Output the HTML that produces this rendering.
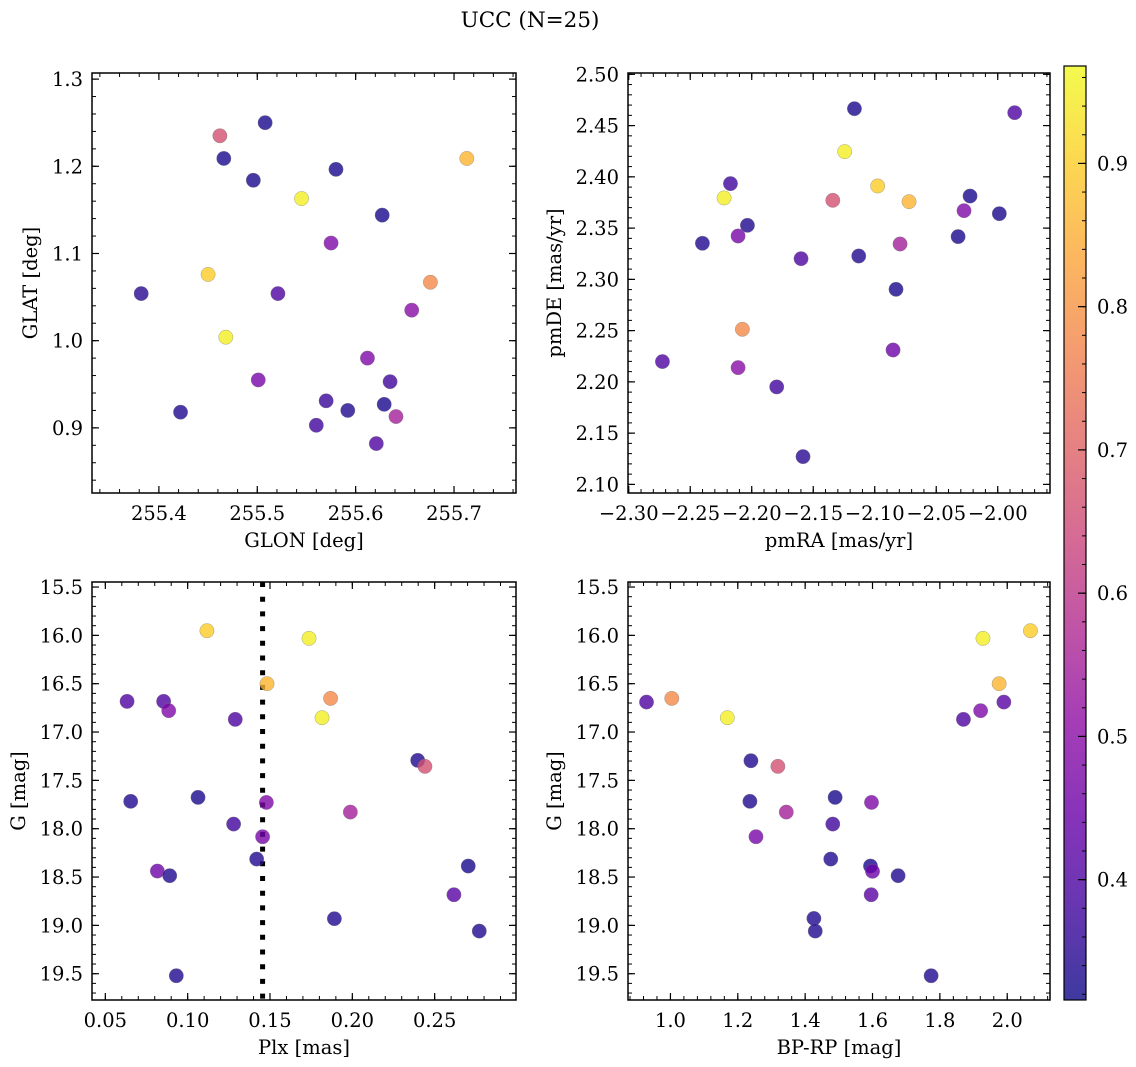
<!DOCTYPE html>
<html><head><meta charset="utf-8"><style>
html,body{margin:0;padding:0;background:#fff;}
svg{display:block;font-family:"DejaVu Serif","Liberation Serif",serif;}
</style></head><body>
<svg id="fig" width="1136" height="1067" viewBox="0 0 1136 1067" xmlns="http://www.w3.org/2000/svg">
<text x="530" y="27" font-size="21.5" text-anchor="middle">UCC (N=25)</text>
</svg>
<script>
// ---- data ----
const tlGlon=[255.508,255.462,255.466,255.580,255.496,255.545,255.713,255.627,255.575,255.450,255.382,255.521,255.676,255.657,255.468,255.612,255.501,255.635,255.570,255.592,255.422,255.629,255.641,255.560,255.621];
const tlGlat=[1.250,1.235,1.209,1.1965,1.184,1.163,1.209,1.144,1.112,1.076,1.054,1.054,1.067,1.035,1.004,0.980,0.955,0.953,0.931,0.920,0.918,0.927,0.913,0.903,0.882];
const tlProb=[0.33,0.66,0.33,0.33,0.33,0.95,0.86,0.33,0.48,0.90,0.35,0.40,0.78,0.50,0.95,0.48,0.47,0.38,0.37,0.34,0.34,0.33,0.55,0.38,0.40];
const trPmra=[-2.1165,-1.9862,-2.1244,-2.2173,-2.2225,-2.0976,-2.1341,-2.0721,-2.0225,-2.0274,-1.9987,-2.2035,-2.2111,-2.2401,-2.0322,-2.0794,-2.1130,-2.1599,-2.0827,-2.2076,-2.0851,-2.2726,-2.2111,-2.1797,-2.1583];
const trPmde=[2.4665,2.4626,2.4246,2.3934,2.3794,2.3911,2.3771,2.3758,2.3813,2.3670,2.3641,2.3527,2.3423,2.3352,2.3417,2.3345,2.3228,2.3202,2.2903,2.2513,2.2311,2.2198,2.2139,2.1951,2.1271];
const trProb=[0.33,0.40,0.95,0.38,0.95,0.90,0.66,0.86,0.33,0.48,0.33,0.34,0.47,0.34,0.33,0.55,0.34,0.40,0.33,0.78,0.45,0.40,0.50,0.38,0.35];
const blPlx=[0.1117,0.1737,0.1482,0.1868,0.0632,0.0854,0.0885,0.1816,0.1289,0.2397,0.2441,0.0654,0.1063,0.1478,0.1988,0.1279,0.1455,0.1419,0.2704,0.0816,0.0891,0.2617,0.1891,0.2771,0.0931];
const blG=[15.952,16.031,16.50,16.652,16.683,16.683,16.779,16.852,16.869,17.293,17.355,17.717,17.676,17.728,17.828,17.952,18.083,18.314,18.386,18.438,18.486,18.683,18.931,19.059,19.521];
const blProb=[0.90,0.95,0.86,0.78,0.40,0.40,0.48,0.95,0.40,0.34,0.66,0.34,0.33,0.48,0.55,0.38,0.47,0.34,0.33,0.45,0.34,0.42,0.34,0.34,0.34];
const plxLine=0.1455;
const brBprp=[2.069,1.928,1.976,1.990,1.921,1.870,0.929,1.004,1.169,1.239,1.319,1.236,1.489,1.597,1.344,1.482,1.254,1.476,1.594,1.600,1.676,1.596,1.426,1.430,1.774];
const brG=[15.952,16.031,16.50,16.690,16.779,16.869,16.690,16.652,16.852,17.297,17.355,17.717,17.676,17.728,17.828,17.952,18.083,18.314,18.386,18.441,18.486,18.683,18.928,19.059,19.521];
const brProb=[0.90,0.95,0.86,0.42,0.48,0.40,0.40,0.78,0.95,0.34,0.66,0.34,0.33,0.48,0.55,0.38,0.47,0.34,0.33,0.45,0.34,0.42,0.34,0.34,0.34];
const tlXTicks=[255.4,255.5,255.6,255.7];
const tlYTicks=[0.9,1.0,1.1,1.2,1.3];
const trXTicks=[-2.30,-2.25,-2.20,-2.15,-2.10,-2.05,-2.00];
const trYTicks=[2.10,2.15,2.20,2.25,2.30,2.35,2.40,2.45,2.50];
const blXTicks=[0.05,0.10,0.15,0.20,0.25];
const gTicks=[15.5,16.0,16.5,17.0,17.5,18.0,18.5,19.0,19.5];
const brXTicks=[1.0,1.2,1.4,1.6,1.8,2.0];
const cbTicks=[0.4,0.5,0.6,0.7,0.8,0.9];
const vmin=0.316, vmax=0.968;

const FS=19.5;
const NS="http://www.w3.org/2000/svg";
const svg=document.getElementById('fig');
function mk(tag,attrs,parent){const e=document.createElementNS(NS,tag);for(const k in attrs)e.setAttribute(k,attrs[k]);(parent||svg).appendChild(e);return e;}
const plasma=[[13,8,135],[65,4,157],[106,0,168],[143,13,164],[177,42,144],[204,71,120],[225,100,98],[242,132,75],[252,166,54],[252,206,37],[240,249,33]];
function cmap(v){let t=(v-vmin)/(vmax-vmin);t=Math.max(0,Math.min(1,t));const f=t*10,i=Math.min(9,Math.floor(f)),r=f-i;const a=plasma[i],b=plasma[i+1];return 'rgb('+[0,1,2].map(k=>Math.round(a[k]+(b[k]-a[k])*r)).join(',')+')';}
function fmt(v,d){const s=Math.abs(v).toFixed(d);return (v<-1e-9?'\u2212':'')+s;}

function panel(o){
  const g=mk('g',{});
  
  
  const sx=v=>o.x0+(v-o.xr[0])/(o.xr[1]-o.xr[0])*(o.x1-o.x0);
  const sy=v=>o.y1-(v-o.yr[0])/(o.yr[1]-o.yr[0])*(o.y1-o.y0);
  const eps=1e-9;
  for(let v=Math.ceil(o.xr[0]/o.xmin-eps)*o.xmin;v<=o.xr[1]+eps;v+=o.xmin){const x=sx(v);
    mk('line',{x1:x,x2:x,y1:o.y1,y2:o.y1-4,stroke:'#000','stroke-width':1},g);
    mk('line',{x1:x,x2:x,y1:o.y0,y2:o.y0+4,stroke:'#000','stroke-width':1},g);}
  for(let v=Math.ceil(o.yr[0]/o.ymin-eps)*o.ymin;v<=o.yr[1]+eps;v+=o.ymin){const y=sy(v);
    mk('line',{x1:o.x0,x2:o.x0+4,y1:y,y2:y,stroke:'#000','stroke-width':1},g);
    mk('line',{x1:o.x1,x2:o.x1-4,y1:y,y2:y,stroke:'#000','stroke-width':1},g);}
  o.xt.forEach(v=>{const x=sx(v);if(x<o.x0-1||x>o.x1+1)return;
    mk('line',{x1:x,x2:x,y1:o.y1,y2:o.y1-7,stroke:'#000','stroke-width':1.2},g);
    mk('line',{x1:x,x2:x,y1:o.y0,y2:o.y0+7,stroke:'#000','stroke-width':1.2},g);
    const t=mk('text',{x:x,y:o.y1+27,'font-size':FS,'text-anchor':'middle'},g);t.textContent=fmt(v,o.xd);
    
    });
  o.yt.forEach(v=>{const y=sy(v);if(y<o.y0-1||y>o.y1+1)return;
    mk('line',{x1:o.x0,x2:o.x0+7,y1:y,y2:y,stroke:'#000','stroke-width':1.2},g);
    mk('line',{x1:o.x1,x2:o.x1-7,y1:y,y2:y,stroke:'#000','stroke-width':1.2},g);
    const t=mk('text',{x:o.x0-9,y:y+7,'font-size':FS,'text-anchor':'end'},g);t.textContent=fmt(v,o.yd);
    
    });
  if(o.vline!==undefined){const x=sx(o.vline);const l=mk('line',{x1:x,x2:x,y1:o.y0,y2:o.y1,stroke:'#000','stroke-width':5,'stroke-dasharray':'5 9.7'},g);
    
    }
  o.xs.forEach((xv,i)=>{const c=mk('circle',{cx:sx(xv),cy:sy(o.ys[i]),r:7.2,fill:cmap(o.p[i]),'fill-opacity':0.8,stroke:'#777','stroke-width':0.4,'stroke-opacity':0.8},g);
    
    });
  const fr=mk('rect',{x:o.x0,y:o.y0,width:o.x1-o.x0,height:o.y1-o.y0,fill:'none',stroke:'#000','stroke-width':1.5},g);
  
  
  const xl=mk('text',{x:(o.x0+o.x1)/2,y:o.y1+54,'font-size':FS,'text-anchor':'middle'},g);xl.textContent=o.xlab;
  
  
  const yx=o.ylx, yy=(o.y0+o.y1)/2;
  const yl=mk('text',{x:yx,y:yy,'font-size':FS,'text-anchor':'middle',transform:'rotate(-90 '+yx+' '+yy+')'},g);yl.textContent=o.ylab;
  
  
}
panel({name:'glon-glat-panel',x0:92,x1:516,y0:73,y1:493,xr:[255.332,255.763],yr:[0.8253,1.307],xt:tlXTicks,yt:tlYTicks,xmin:0.02,ymin:0.02,xd:1,yd:1,xs:tlGlon,ys:tlGlat,p:tlProb,xlab:'GLON [deg]',ylab:'GLAT [deg]',ylx:37});
panel({name:'pm-panel',x0:628,x1:1050,y0:73,y1:493,xr:[-2.3006,-1.9575],yr:[2.0916,2.5013],xt:trXTicks,yt:trYTicks,xmin:0.01,ymin:0.01,xd:2,yd:2,xs:trPmra,ys:trPmde,p:trProb,xlab:'pmRA [mas/yr]',ylab:'pmDE [mas/yr]',ylx:561});
panel({name:'plx-g-panel',x0:92,x1:516,y0:582,y1:1000,xr:[0.0419,0.2994],yr:[-19.772,-15.448],xt:blXTicks,yt:[],xmin:0.01,ymin:0.1,xd:2,yd:1,xs:blPlx,ys:blG.map(v=>-v),p:blProb,xlab:'Plx [mas]',ylab:'G [mag]',ylx:25,vline:plxLine});
panel({name:'cmd-panel',x0:628,x1:1050,y0:582,y1:1000,xr:[0.874,2.127],yr:[-19.772,-15.448],xt:brXTicks,yt:[],xmin:0.04,ymin:0.1,xd:1,yd:1,xs:brBprp,ys:brG.map(v=>-v),p:brProb,xlab:'BP-RP [mag]',ylab:'G [mag]',ylx:561});
[[92,516],[628,1050]].forEach(([x0,x1])=>{gTicks.forEach(v=>{const y=582+(v-15.448)/(19.772-15.448)*418;
  mk('line',{x1:x0,x2:x0+7,y1:y,y2:y,stroke:'#000','stroke-width':1.2});
  mk('line',{x1:x1,x2:x1-7,y1:y,y2:y,stroke:'#000','stroke-width':1.2});
  const t=mk('text',{x:x0-9,y:y+7,'font-size':FS,'text-anchor':'end'});t.textContent=v.toFixed(1);
  
  });});
const defs=mk('defs',{});
const lg=mk('linearGradient',{id:'cbg',x1:0,y1:1,x2:0,y2:0},defs);
for(let i=0;i<=20;i++){const v=vmin+(vmax-vmin)*i/20;mk('stop',{offset:(i/20),'stop-color':cmap(v),'stop-opacity':0.8},lg);}
const cbx=1064,cbw=22,cby0=66,cby1=1000;
const cb=mk('rect',{x:cbx,y:cby0,width:cbw,height:cby1-cby0,fill:'url(#cbg)',stroke:'#000','stroke-width':1.2});


const cy=v=>cby1-(v-vmin)/(vmax-vmin)*(cby1-cby0);
for(let v=0.32;v<vmax;v+=0.02){const y=cy(v);mk('line',{x1:cbx+cbw,x2:cbx+cbw-4,y1:y,y2:y,stroke:'#000','stroke-width':1});}
cbTicks.forEach(v=>{const y=cy(v);mk('line',{x1:cbx+cbw,x2:cbx+cbw-8,y1:y,y2:y,stroke:'#000','stroke-width':1.2});
  const t=mk('text',{x:cbx+cbw+11,y:y+7,'font-size':FS});t.textContent=v.toFixed(1);
  
  });
</script>
</body></html>
